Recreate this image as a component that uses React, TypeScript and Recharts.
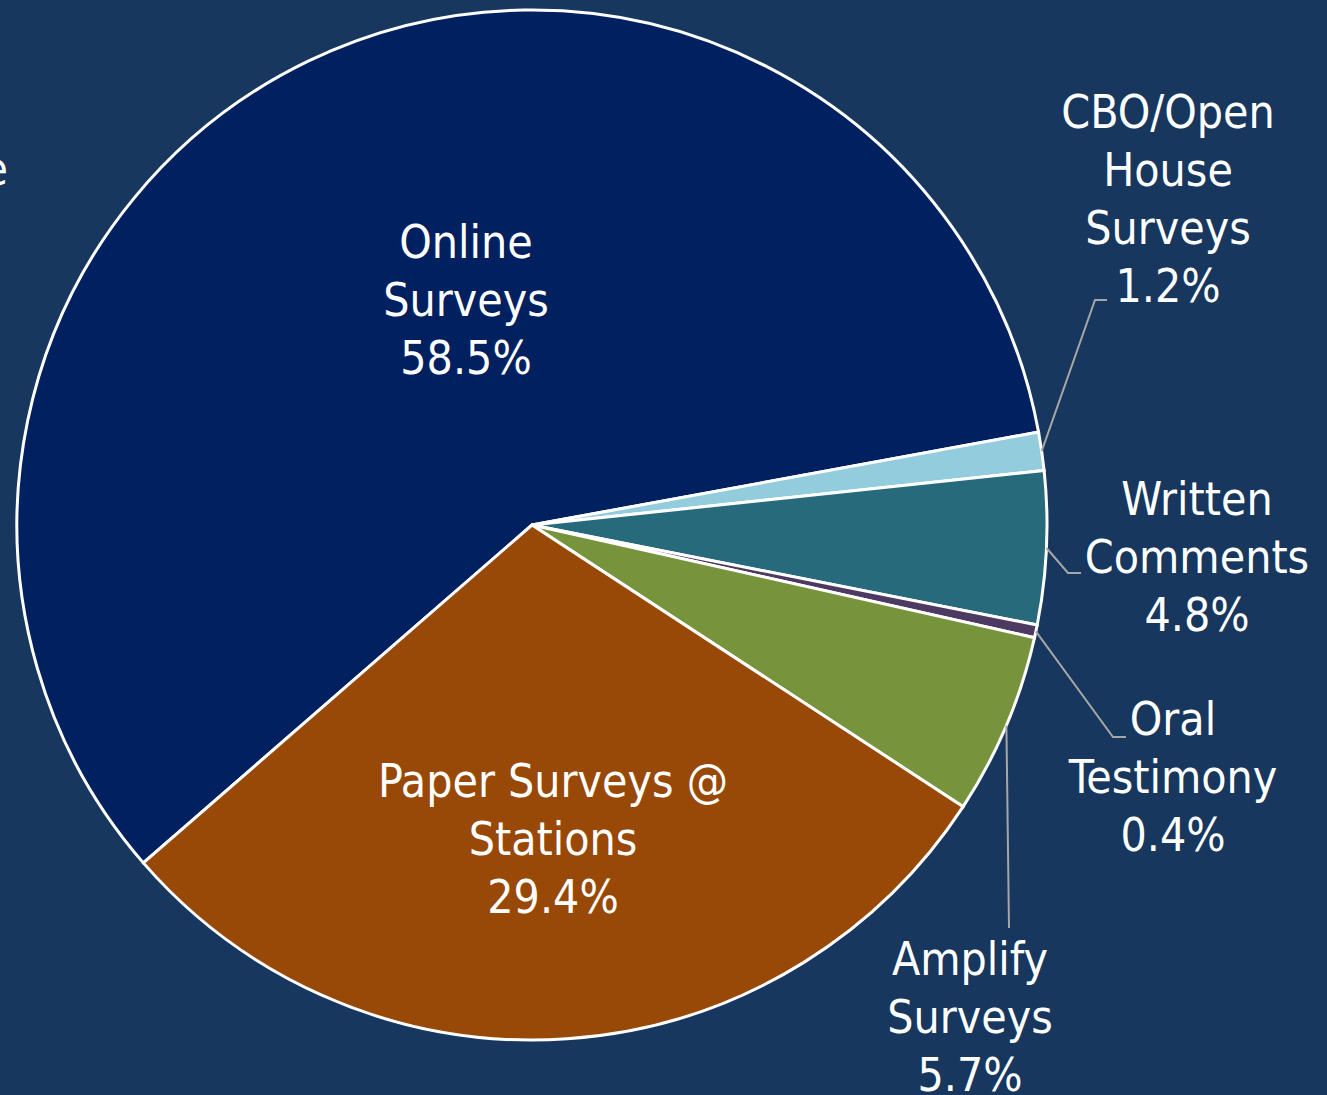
import React from 'react';
import { PieChart, Pie, Cell } from 'recharts';

const categories = ['Online Surveys', 'CBO/Open House Surveys', 'Written Comments', 'Oral Testimony', 'Amplify Surveys', 'Paper Surveys @ Stations'];
const shares = [58.5, 1.2, 4.8, 0.4, 5.7, 29.4];
const labelLines = [
  ['Online', 'Surveys', '58.5%'],
  ['CBO/Open', 'House', 'Surveys', '1.2%'],
  ['Written', 'Comments', '4.8%'],
  ['Oral', 'Testimony', '0.4%'],
  ['Amplify', 'Surveys', '5.7%'],
  ['Paper Surveys @', 'Stations', '29.4%'],
];
const sliceColors = ['#002060', '#93CDDD', '#276A7B', '#4D3A63', '#77933C', '#984807'];

// label placement relative to pie centre: text centre x, first baseline y, optional leader elbow/end
const labelPlacement: { x: number; y: number; elbow?: [number, number]; end?: [number, number] }[] = [
  { x: -66, y: -267 },
  { x: 636, y: -397, elbow: [563, -225], end: [575, -225] },
  { x: 665, y: -10, elbow: [536, 48], end: [549, 48] },
  { x: 641, y: 210, elbow: [581, 212], end: [594, 212] },
  { x: 438, y: 450, elbow: [477, 403], end: [477, 403] },
  { x: 21, y: 272 },
];

const data = categories.map((name, i) => ({ name, value: shares[i] }));

const FONT = "'DejaVu Sans Condensed', 'Liberation Sans', sans-serif";
const RAD = Math.PI / 180;

const renderLabel = (props: any) => {
  const { cx, cy, midAngle, outerRadius, index } = props;
  const p = labelPlacement[index];
  const lines = labelLines[index];
  const sx = cx + outerRadius * Math.cos(-midAngle * RAD);
  const sy = cy + outerRadius * Math.sin(-midAngle * RAD);
  return (
    <g key={`lbl-${index}`}>
      {p.elbow && p.end && (
        <polyline
          points={`${sx},${sy} ${cx + p.elbow[0]},${cy + p.elbow[1]} ${cx + p.end[0]},${cy + p.end[1]}`}
          fill="none"
          stroke="#A6A6A6"
          strokeWidth={2}
        />
      )}
      <text x={cx + p.x} y={cy + p.y} textAnchor="middle" fill="#FFFFFF" fontSize={46} fontFamily={FONT}>
        {lines.map((l, i) => (
          <tspan key={i} x={cx + p.x} dy={i === 0 ? 0 : 58}>
            {l}
          </tspan>
        ))}
      </text>
    </g>
  );
};

export default function App() {
  return (
    <div style={{ position: 'fixed', left: 0, top: 0, width: 1327, height: 1095, background: '#17375E', overflow: 'hidden' }}>
      <PieChart width={1327} height={1095} margin={{ top: 0, right: 0, bottom: 0, left: 0 }}>
        <text x={8} y={185} textAnchor="end" fill="#FFFFFF" fontSize={46} fontFamily={FONT}>
          e
        </text>
        <Pie
          data={data}
          dataKey="value"
          nameKey="name"
          cx={532}
          cy={525}
          outerRadius={515}
          startAngle={221}
          endAngle={-139}
          stroke="#FFFFFF"
          strokeWidth={3}
          label={renderLabel}
          labelLine={false}
          isAnimationActive={false}
        >
          {data.map((d, i) => (
            <Cell key={d.name} fill={sliceColors[i]} />
          ))}
        </Pie>
      </PieChart>
    </div>
  );
}
